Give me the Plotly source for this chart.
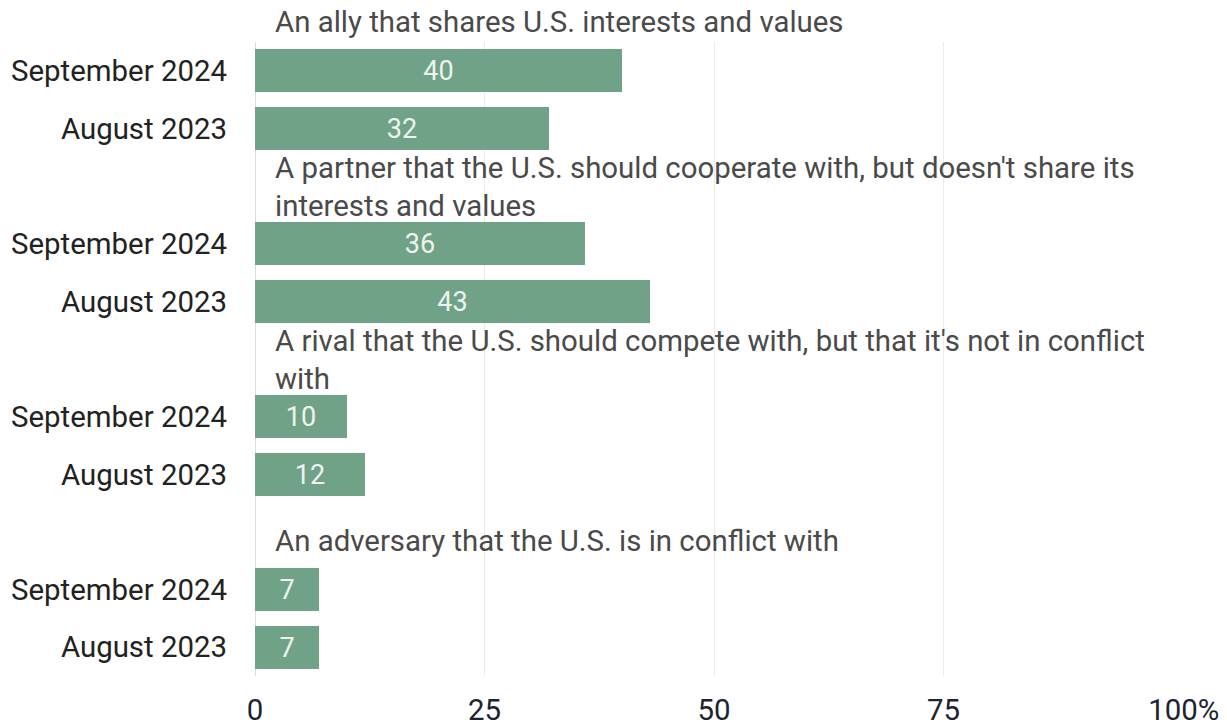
import plotly.graph_objects as go

# Survey answers, one group per response option
groups = [
    "An ally that shares U.S. interests and values",
    "A partner that the U.S. should cooperate with, but doesn't share its<br>interests and values",
    "A rival that the U.S. should compete with, but that it's not in conflict<br>with",
    "An adversary that the U.S. is in conflict with",
]
waves = ["September 2024", "August 2023"]
sept_2024 = [40, 36, 10, 7]
aug_2023 = [32, 43, 12, 7]
x_ticks = [0, 25, 50, 75, 100]
x_tick_labels = ["0", "25", "50", "75", "<span style='color:rgba(0,0,0,0)'>%</span>100%"]

BAR = "#6fa287"
FONT = "Roboto"
TXT = 29.4

# Each group takes three rows: a heading row, then one row per wave
y_pos, x_val, y_lab = [], [], []
first_rows = []
for g, (a, b) in enumerate(zip(sept_2024, aug_2023)):
    first = g * 3
    first_rows.append(first)
    y_pos += [first, first + 1]
    x_val += [a, b]
    y_lab += waves

fig = go.Figure(
    go.Bar(
        x=x_val,
        y=y_pos,
        orientation="h",
        marker=dict(color=BAR, line=dict(width=0)),
        width=0.74,
        text=[str(v) for v in x_val],
        textposition="inside",
        insidetextanchor="middle",
        textangle=0,
        textfont=dict(family=FONT, size=27, color="#eef3ef"),
        hoverinfo="skip",
    )
)

# Group headings sit just above the first bar of each group
for label, row in zip(groups, first_rows):
    multi = "<br>" in label
    fig.add_annotation(
        x=0, y=row - 0.5, xref="x", yref="y",
        text=label, showarrow=False,
        xanchor="left", yanchor="bottom", align="left",
        xshift=18, yshift=-10 if multi else 1,
        font=dict(family=FONT, size=TXT, color="#4a4a4a"),
    )

fig.update_layout(
    width=1227, height=726,
    margin=dict(l=255, r=54, t=42, b=50),
    paper_bgcolor="white", plot_bgcolor="white",
    showlegend=False,
    bargap=0,
)
fig.update_xaxes(
    range=[0, 100],
    tickvals=x_ticks, ticktext=x_tick_labels,
    showgrid=True, gridcolor="#ebebeb", gridwidth=1,
    zeroline=False, showline=False,
    tickfont=dict(family=FONT, size=TXT, color="#1b2430"),
    ticks="", ticklabelstandoff=14, automargin=False,
)
fig.update_yaxes(
    range=[10.5, -0.5],
    tickvals=y_pos, ticktext=y_lab,
    showgrid=False, zeroline=False,
    showline=False,
    tickfont=dict(family=FONT, size=TXT, color="#222222"),
    ticks="", ticklabelstandoff=27, automargin=False,
)
# Baseline at zero
fig.add_shape(type="line", xref="x", yref="paper", x0=0, x1=0, y0=0, y1=1,
              line=dict(color="#dddddd", width=2), layer="below")

fig.write_html("out.html")
